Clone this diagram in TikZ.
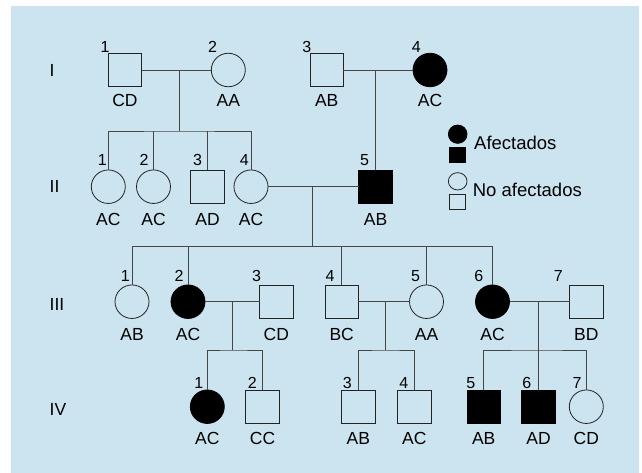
\documentclass[tikz,border=0pt]{standalone}
\usepackage{fontspec}
\setmainfont{Liberation Sans}
\usetikzlibrary{shapes.geometric}

\definecolor{panel}{RGB}{204,228,239}
\definecolor{pedline}{RGB}{70,70,70}
\definecolor{symline}{RGB}{35,35,35}

\tikzset{
  symbase/.style={draw=symline, line width=0.8pt, inner sep=0pt, outer sep=0pt},
  male/.style={symbase, rectangle, minimum width=33.5pt, minimum height=33.5pt},
  female/.style={symbase, ellipse, minimum width=34pt, minimum height=33.5pt},
  affm/.style={male, fill=black, draw=black},
  afff/.style={female, fill=black, draw=black},
  numlbl/.style={anchor=base, inner sep=0pt, font=\fontsize{16}{16}\selectfont},
  genlbl/.style={anchor=base, inner sep=0pt, font=\fontsize{17.5}{17.5}\selectfont},
  genlabel/.style={anchor=base west, inner sep=0pt, font=\fontsize{17.5}{17.5}\selectfont},
  legtext/.style={anchor=base west, inner sep=0pt, font=\fontsize{18.5}{18.5}\selectfont},
  link/.style={draw=pedline, line width=0.9pt},
}

% #1 name, #2 symbol style, #3 x, #4 y, #5 number, #6 number x-offset,
% #7 number lift, #8 genotype, #9 genotype drop
\newcommand\pedind[9]{%
  \node[#2] (#1) at (#3,#4) {};
  \node[numlbl] (#1-n) at ([xshift=#6pt,yshift=#7pt]#1.north) {#5};
  \node[genlbl] (#1-g) at ([yshift=-#9pt]#1.south) {#8};
}

\begin{document}
\begin{tikzpicture}[x=1pt, y=-1pt]
  \useasboundingbox (0,0) rectangle (642,473);
  \fill[panel] (11,6) rectangle (639,473);

  % generation numerals
  \node[genlabel] (gI)   at (49.5,76.7)  {I};
  \node[genlabel] (gII)  at (49.5,192.3) {II};
  \node[genlabel] (gIII) at (49.5,310)   {III};
  \node[genlabel] (gIV)  at (49.5,415)   {IV};

  % generation I
  \pedind{I1}{male}{125}{70}{1}{-20}{0.7}{CD}{20}
  \pedind{I2}{female}{228.3}{70}{2}{-15.7}{0.7}{AA}{20}
  \pedind{I3}{male}{326.7}{70}{3}{-20}{0.7}{AB}{20}
  \pedind{I4}{afff}{430}{70}{4}{-13.7}{0.7}{AC}{20}

  % generation II
  \pedind{II1}{female}{108.3}{186.7}{1}{-6}{4}{AC}{22.3}
  \pedind{II2}{female}{153.5}{186.7}{2}{-9.5}{4}{AC}{22.3}
  \pedind{II3}{male}{207.5}{186.7}{3}{-10}{4}{AD}{22.3}
  \pedind{II4}{female}{251}{186.7}{4}{-6.7}{4}{AC}{22.3}
  \pedind{II5}{affm}{375.5}{186.7}{5}{-11}{4}{AB}{22.3}

  % generation III
  \pedind{III1}{female}{132}{301.7}{1}{-6.7}{3.3}{AB}{21.7}
  \pedind{III2}{afff}{188}{301.7}{2}{-9}{3.3}{AC}{21.7}
  \pedind{III3}{male}{276.3}{301.7}{3}{-19.7}{3.3}{CD}{21.7}
  \pedind{III4}{male}{341.7}{301.7}{4}{-11.7}{3.3}{BC}{21.7}
  \pedind{III5}{female}{426.5}{301.7}{5}{-11}{3.3}{AA}{21.7}
  \pedind{III6}{afff}{492.5}{301.7}{6}{-13.7}{3.3}{AC}{21.7}
  \pedind{III7}{male}{586.3}{301.7}{7}{-28}{3.3}{BD}{21.7}

  % generation IV
  \pedind{IV1}{afff}{207.3}{406.7}{1}{-8.6}{1.7}{AC}{21}
  \pedind{IV2}{male}{262.5}{406.7}{2}{-10.2}{1.7}{CC}{21}
  \pedind{IV3}{male}{358.3}{406.7}{3}{-11.1}{1.7}{AB}{21}
  \pedind{IV4}{male}{414.3}{406.7}{4}{-10.6}{1.7}{AC}{21}
  \pedind{IV5}{affm}{483.7}{406.7}{5}{-12.9}{1.7}{AB}{21}
  \pedind{IV6}{affm}{538.5}{406.7}{6}{-11.8}{1.7}{AD}{21}
  \pedind{IV7}{female}{586.3}{406.7}{7}{-9.3}{1.7}{CD}{21}

  % marriage points and sibship lines
  \coordinate (mI12)   at (179,70);
  \coordinate (sII)    at (179,131);
  \coordinate (mI34)   at (II5.north |- I3.east);
  \coordinate (mII)    at (312,186.7);
  \coordinate (sIII)   at (312,246.7);
  \coordinate (mIIIa)  at (232.7,301.7);
  \coordinate (sIVa)   at (232.7,350);
  \coordinate (mIIIb)  at (385,301.7);
  \coordinate (sIVb)   at (385,350);
  \coordinate (mIIIc)  at (IV6.north |- III6.east);
  \coordinate (sIVc)   at (IV6.north |- 0,350);

  % generation I families
  \draw[link] (I1.east) -- (I2.west);
  \draw[link] (mI12) -- (sII);
  \draw[link] (II1.north) |- (sII) -| (II4.north);
  \draw[link] (II2.north) -- (II2.north |- sII);
  \draw[link] (II3.north) -- (II3.north |- sII);
  \draw[link] (I3.east) -- (I4.west);
  \draw[link] (mI34) -- (II5.north);

  % generation II family
  \draw[link] (II4.east) -- (II5.west);
  \draw[link] (mII) -- (sIII);
  \draw[link] (III1.north) |- (sIII) -| (III6.north);
  \draw[link] (III2.north) -- (III2.north |- sIII);
  \draw[link] (III4.north) -- (III4.north |- sIII);
  \draw[link] (III5.north) -- (III5.north |- sIII);

  % generation III families
  \draw[link] (III2.east) -- (III3.west);
  \draw[link] (mIIIa) -- (sIVa);
  \draw[link] (IV1.north) |- (sIVa) -| (IV2.north);

  \draw[link] (III4.east) -- (III5.west);
  \draw[link] (mIIIb) -- (sIVb);
  \draw[link] (IV3.north) |- (sIVb) -| (IV4.north);

  \draw[link] (III6.east) -- (III7.west);
  \draw[link] (mIIIc) -- (IV6.north);
  \draw[link] (IV5.north) |- (sIVc) -| (IV7.north);

  % legend
  \node[afff, minimum width=18.7pt, minimum height=18.3pt] (legAf1) at (457.7,134.2) {};
  \node[affm, minimum width=16pt, minimum height=15pt] (legAf2) at (457.7,154.8) {};
  \node[legtext] (legAfT) at (474,149.3) {Afectados};
  \node[female, minimum width=18.7pt, minimum height=17.3pt] (legNo1) at (457.7,181.3) {};
  \node[male, minimum width=16pt, minimum height=15.3pt] (legNo2) at (457.7,201.7) {};
  \node[legtext] (legNoT) at (472.6,196.7) {No afectados};
\end{tikzpicture}
\end{document}
